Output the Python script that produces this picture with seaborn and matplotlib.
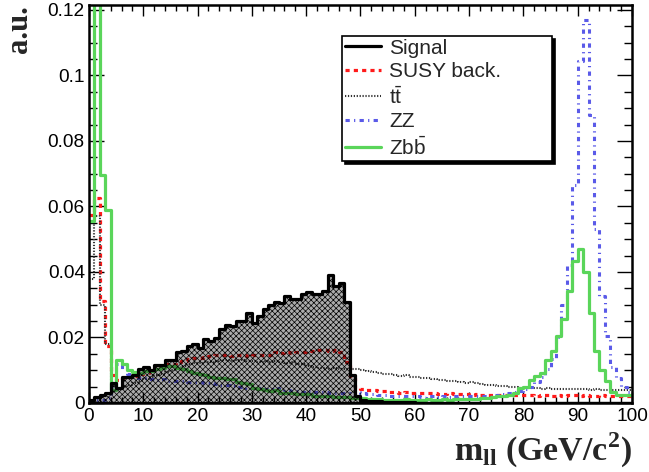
import numpy as np
import pandas as pd
import matplotlib
matplotlib.use('Agg')
import matplotlib.pyplot as plt
from matplotlib.lines import Line2D
import seaborn as sns

# 1 GeV bins from 0 to 100
edges = list(range(0, 101))
centers = [e + 0.5 for e in edges[:-1]]

signal = [
    0.0010, 0.0018, 0.0025, 0.0032, 0.0060, 0.0045, 0.0079, 0.0080, 0.0086, 0.0104,
    0.0110, 0.0100, 0.0117, 0.0117, 0.0132, 0.0132, 0.0155, 0.0160, 0.0173, 0.0180,
    0.0168, 0.0194, 0.0189, 0.0199, 0.0225, 0.0237, 0.0235, 0.0250, 0.0250, 0.0276,
    0.0245, 0.0266, 0.0286, 0.0298, 0.0309, 0.0305, 0.0327, 0.0317, 0.0317, 0.0332,
    0.0340, 0.0332, 0.0332, 0.0343, 0.0390, 0.0358, 0.0366, 0.0307, 0.0086, 0.0020,
    0.0010, 0.0007, 0.0006, 0.0005, 0.0004, 0.0003, 0.0003, 0.0002, 0.0002, 0.0002,
    0.0001, 0.0001, 0.0001, 0.0001, 0.0001, 0.0001, 0.0001, 0.0001, 0.0001, 0.0001,
    0.0, 0.0, 0.0, 0.0, 0.0, 0.0, 0.0, 0.0, 0.0, 0.0,
    0.0, 0.0, 0.0, 0.0, 0.0, 0.0, 0.0, 0.0, 0.0, 0.0,
    0.0, 0.0, 0.0, 0.0, 0.0, 0.0, 0.0, 0.0, 0.0, 0.0,
]

susy = [
    0.0575, 0.0625, 0.0310, 0.0175, 0.0085, 0.0071, 0.0076, 0.0080, 0.0082, 0.0090,
    0.0092, 0.0102, 0.0108, 0.0110, 0.0118, 0.0120, 0.0125, 0.0128, 0.0135, 0.0137,
    0.0138, 0.0140, 0.0142, 0.0145, 0.0148, 0.0147, 0.0143, 0.0147, 0.0145, 0.0144,
    0.0146, 0.0145, 0.0147, 0.0148, 0.0155, 0.0152, 0.0156, 0.0154, 0.0157, 0.0155,
    0.0160, 0.0158, 0.0162, 0.0163, 0.0160, 0.0162, 0.0156, 0.0125, 0.0075, 0.0045,
    0.0042, 0.0041, 0.0040, 0.0038, 0.0036, 0.0034, 0.0033, 0.0032, 0.0033, 0.0031,
    0.0030, 0.0030, 0.0029, 0.0029, 0.0028, 0.0028, 0.0029, 0.0027, 0.0027, 0.0026,
    0.0025, 0.0026, 0.0024, 0.0025, 0.0024, 0.0023, 0.0025, 0.0024, 0.0023, 0.0024,
    0.0023, 0.0024, 0.0022, 0.0023, 0.0024, 0.0022, 0.0023, 0.0022, 0.0024, 0.0023,
    0.0022, 0.0023, 0.0022, 0.0021, 0.0023, 0.0022, 0.0021, 0.0022, 0.0021, 0.0022,
]

ttbar = [
    0.0380, 0.0570, 0.0300, 0.0180, 0.0060, 0.0045, 0.0050, 0.0055, 0.0060, 0.0066,
    0.0072, 0.0078, 0.0084, 0.0090, 0.0096, 0.0102, 0.0108, 0.0114, 0.0118, 0.0121,
    0.0123, 0.0125, 0.0126, 0.0128, 0.0130, 0.0131, 0.0128, 0.0131, 0.0130, 0.0127,
    0.0129, 0.0126, 0.0128, 0.0125, 0.0127, 0.0124, 0.0122, 0.0125, 0.0120, 0.0118,
    0.0112, 0.0110, 0.0108, 0.0107, 0.0105, 0.0106, 0.0104, 0.0103, 0.0105, 0.0104,
    0.0102, 0.0098, 0.0095, 0.0092, 0.0090, 0.0088, 0.0085, 0.0083, 0.0084, 0.0080,
    0.0078, 0.0077, 0.0075, 0.0073, 0.0070, 0.0071, 0.0068, 0.0066, 0.0064, 0.0062,
    0.0063, 0.0060, 0.0058, 0.0056, 0.0055, 0.0053, 0.0052, 0.0050, 0.0049, 0.0047,
    0.0046, 0.0045, 0.0046, 0.0044, 0.0045, 0.0043, 0.0044, 0.0042, 0.0043, 0.0044,
    0.0042, 0.0043, 0.0041, 0.0042, 0.0040, 0.0041, 0.0040, 0.0039, 0.0040, 0.0039,
]

zz = [
    0.0005, 0.0010, 0.0010, 0.0015, 0.0050, 0.0120, 0.0105, 0.0090, 0.0080, 0.0075,
    0.0075, 0.0072, 0.0070, 0.0072, 0.0068, 0.0068, 0.0066, 0.0066, 0.0065, 0.0064,
    0.0063, 0.0062, 0.0060, 0.0058, 0.0056, 0.0054, 0.0052, 0.0050, 0.0048, 0.0046,
    0.0045, 0.0046, 0.0044, 0.0042, 0.0045, 0.0042, 0.0040, 0.0038, 0.0036, 0.0035,
    0.0036, 0.0034, 0.0033, 0.0035, 0.0032, 0.0030, 0.0031, 0.0030, 0.0028, 0.0035,
    0.0030, 0.0028, 0.0026, 0.0025, 0.0024, 0.0022, 0.0021, 0.0022, 0.0020, 0.0021,
    0.0020, 0.0019, 0.0020, 0.0021, 0.0019, 0.0020, 0.0019, 0.0020, 0.0021, 0.0020,
    0.0021, 0.0020, 0.0022, 0.0021, 0.0023, 0.0025, 0.0027, 0.0030, 0.0033, 0.0037,
    0.0042, 0.0050, 0.0065, 0.0080, 0.0105, 0.0135, 0.0200, 0.0300, 0.0420, 0.0666,
    0.1045, 0.1168, 0.0880, 0.0530, 0.0327, 0.0204, 0.0110, 0.0076, 0.0050, 0.0035,
]

zbb = [
    0.0557, 0.1600, 0.0696, 0.0589, 0.0040, 0.0130, 0.0120, 0.0102, 0.0094, 0.0092,
    0.0097, 0.0098, 0.0105, 0.0108, 0.0112, 0.0112, 0.0108, 0.0103, 0.0098, 0.0092,
    0.0088, 0.0086, 0.0080, 0.0077, 0.0075, 0.0072, 0.0074, 0.0064, 0.0060, 0.0058,
    0.0045, 0.0042, 0.0040, 0.0038, 0.0039, 0.0030, 0.0030, 0.0029, 0.0028, 0.0028,
    0.0027, 0.0022, 0.0021, 0.0020, 0.0020, 0.0019, 0.0018, 0.0017, 0.0016, 0.0015,
    0.0014, 0.0013, 0.0012, 0.0011, 0.0010, 0.0010, 0.0010, 0.0010, 0.0011, 0.0010,
    0.0010, 0.0010, 0.0011, 0.0010, 0.0010, 0.0011, 0.0010, 0.0011, 0.0011, 0.0012,
    0.0012, 0.0013, 0.0014, 0.0016, 0.0018, 0.0020, 0.0022, 0.0025, 0.0030, 0.0045,
    0.0050, 0.0071, 0.0081, 0.0091, 0.0132, 0.0158, 0.0204, 0.0255, 0.0343, 0.0435,
    0.0471, 0.0399, 0.0276, 0.0158, 0.0102, 0.0066, 0.0035, 0.0025, 0.0025, 0.0025,
]

labels = ['Signal', 'SUSY back.', r'$\mathrm{t\bar{t}}$', 'ZZ', r'$\mathrm{Zb\bar{b}}$']

sns.set_style('ticks')
plt.rcParams['font.family'] = ['Liberation Sans', 'DejaVu Sans']
plt.rcParams['mathtext.fontset'] = 'custom'
plt.rcParams['mathtext.rm'] = 'Liberation Sans'
plt.rcParams['mathtext.bf'] = 'Liberation Serif:bold'
plt.rcParams['hatch.color'] = '#1a1a1a'
plt.rcParams['hatch.linewidth'] = 0.5

fig = plt.figure(figsize=(6.49, 4.72), dpi=100)
ax = fig.add_axes([0.1371, 0.1462, 0.8367, 0.8432])

styles = [
    (susy, dict(color='#ff1a1a', linewidth=2.3, linestyle=(0, (1.3, 1.3)))),
    (ttbar, dict(color='#333333', linewidth=1.5, linestyle=(0, (0.6, 0.8)))),
    (zz, dict(color='#5a5ae8', linewidth=2.2, linestyle=(0, (1.4, 1.4, 0.4, 1.4)))),
    (zbb, dict(color='#5ad55a', linewidth=2.3, linestyle='-')),
]
for vals, kw in styles:
    df = pd.DataFrame({'mll': centers, 'w': vals})
    sns.histplot(data=df, x='mll', weights='w', bins=edges, element='step', fill=False,
                 ax=ax, **kw)

# signal drawn last, filled with a see-through pattern like the ROOT fill
df_sig = pd.DataFrame({'mll': centers, 'w': signal})
sns.histplot(data=df_sig, x='mll', weights='w', bins=edges, element='step', fill=True,
             ax=ax, facecolor=(0, 0, 0, 0.33), edgecolor='black', linewidth=2.3,
             hatch='xxxxxx', zorder=5)

ax.set_xlim(0, 100)
ax.set_ylim(0, 0.1215)
ax.set_xticks(np.arange(0, 101, 10))
ax.set_xticks(np.arange(0, 101, 2), minor=True)
ax.set_yticks(np.arange(0, 0.121, 0.02))
ax.set_yticklabels(['0', '0.02', '0.04', '0.06', '0.08', '0.1', '0.12'])
ax.set_yticks(np.arange(0, 0.1215, 0.005), minor=True)
ax.tick_params(which='both', direction='in', top=True, right=True, colors='black',
               labelsize=13.7, width=1.0)
ax.tick_params(axis='x', which='major', length=8, pad=3.5)
ax.tick_params(axis='x', which='minor', length=4)
ax.tick_params(axis='y', which='major', length=11, pad=3)
ax.tick_params(axis='y', which='minor', length=5.5)
for s in ax.spines.values():
    s.set_linewidth(1.8)
    s.set_color('black')

ax.set_ylabel('a.u.', loc='top', fontsize=22, fontweight='bold',
              fontfamily='Liberation Serif', labelpad=10)
ax.set_xlabel(r'$\mathbf{m_{ll}}$ (GeV/c$^{\mathbf{2}}$)', loc='right', fontsize=24.5,
              fontweight='bold', fontfamily='Liberation Serif', labelpad=4)

handles = [Line2D([], [], color='black', linewidth=2.3)]
handles += [Line2D([], [], **kw) for _, kw in styles]
leg = ax.legend(handles, labels, loc='upper left', bbox_to_anchor=(0.466, 0.922, 0.387, 0),
                mode='expand', fontsize=15, frameon=True, fancybox=False,
                shadow={'color': 'black', 'alpha': 1}, labelspacing=0.22,
                handlelength=1.75, handletextpad=0.4, borderpad=0.12, borderaxespad=0)
leg.get_frame().set_edgecolor('black')
leg.get_frame().set_linewidth(1.2)
leg.get_frame().set_alpha(1)
leg.set_zorder(10)

fig.savefig('out.png', dpi=100)
